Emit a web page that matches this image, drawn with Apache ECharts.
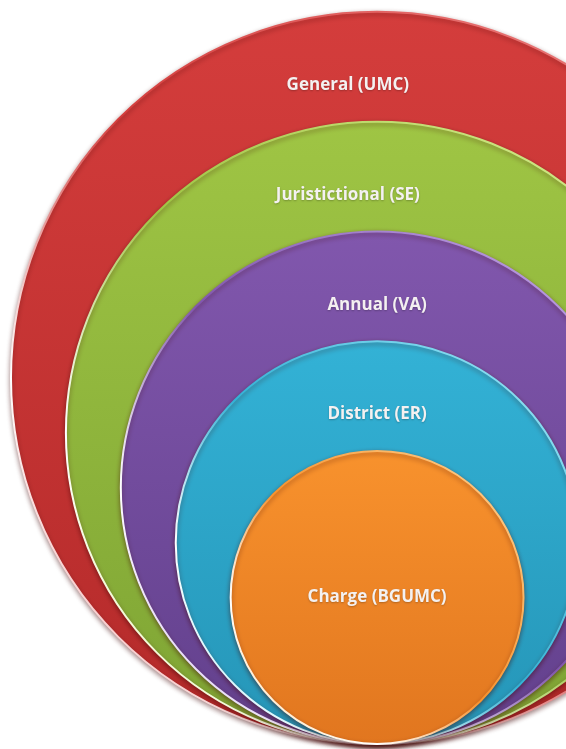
<!DOCTYPE html>
<html>
<head>
<meta charset="utf-8">
<script src="https://cdn.jsdelivr.net/npm/echarts@6/dist/echarts.min.js"></script>
<style>
  html, body { margin: 0; padding: 0; background: #fff; }
  #main { width: 566px; height: 749px; }
</style>
</head>
<body>
<div id="main"></div>
<script>
// levels, outermost first
var levels = ['General (UMC)', 'Juristictional (SE)', 'Annual (VA)', 'District (ER)', 'Charge (BGUMC)'];
var radius = [100, 85, 70, 55, 40];
var centerX = [0, 0, 0, 0, 0];
var centerY = [100, 85, 70, 55, 40]; // all circles touch the baseline
var labelX = [-8, -8, 0, 0, 0];
var labelY = [180, 150, 120, 90, 40];

// top colour, bottom colour, rim colour
var palette = [
    ['#d43d3c', '#b42a2a', '#f08a8a'],
    ['#9fc544', '#7ea434', '#dff29a'],
    ['#8157ad', '#62408c', '#c9aef0'],
    ['#33b2d6', '#2595b7', '#a8ecfb'],
    ['#f8922d', '#e1761f', '#ffd79a']
];

var data = [];
levels.forEach(function (name, i) {
    data.push([centerX[i], centerY[i], radius[i], labelX[i], labelY[i], name]);
});

var myCharts = echarts.init(document.getElementById('main'));
var option = {
    animation: false,
    grid: { left: 0, right: 0, top: 0, bottom: 0 },
    xAxis: { type: 'value', min: -103, max: 51.6, show: false },
    yAxis: { type: 'value', min: -1.4, max: 203.3, show: false },
    series: [{
        type: 'custom',
        coordinateSystem: 'cartesian2d',
        data: data,
        renderItem: function (params, api) {
            var i = params.dataIndex;
            var c = api.coord([api.value(0), api.value(1)]);
            var r = api.size([api.value(2), 0])[0];
            var t = api.coord([api.value(3), api.value(4)]);
            var col = palette[i];
            return {
                type: 'group',
                children: [{
                    type: 'circle',
                    shape: { cx: c[0], cy: c[1], r: r },
                    style: {
                        fill: new echarts.graphic.LinearGradient(0, 0, 0, 1, [
                            { offset: 0, color: col[0] },
                            { offset: 1, color: col[1] }
                        ]),
                        // light rim, brightest on the lower left
                        stroke: new echarts.graphic.LinearGradient(1, 0, 0, 1, [
                            { offset: 0, color: col[2] },
                            { offset: 0.5, color: col[0] },
                            { offset: 0.75, color: '#ffffff' },
                            { offset: 1, color: col[2] }
                        ]),
                        lineWidth: 2,
                        shadowBlur: 5,
                        shadowOffsetY: 2,
                        shadowColor: 'rgba(60,0,0,0.45)'
                    }
                }, {
                    type: 'text',
                    x: t[0],
                    y: t[1],
                    style: {
                        text: api.value(5),
                        fill: '#f4f1f1',
                        font: 'bold 17px "Open Sans", sans-serif',
                        align: 'center',
                        verticalAlign: 'middle',
                        textShadowColor: 'rgba(0,0,0,0.25)',
                        textShadowBlur: 2,
                        textShadowOffsetY: 1
                    }
                }]
            };
        }
    }]
};
myCharts.setOption(option);
</script>
</body>
</html>
